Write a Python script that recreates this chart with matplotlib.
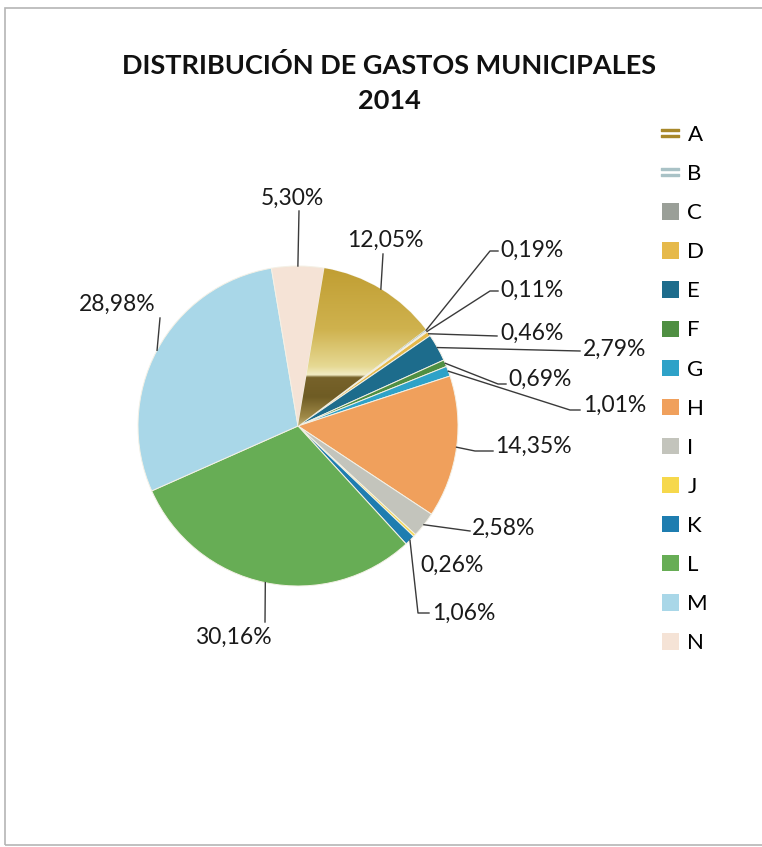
import numpy as np
import matplotlib.pyplot as plt
from matplotlib.colors import LinearSegmentedColormap
from matplotlib.patches import Patch, Rectangle
from matplotlib.lines import Line2D

plt.rcParams['font.family'] = ['Lato', 'DejaVu Sans']

categorias = ["A", "B", "C", "D", "E", "F", "G", "H", "I", "J", "K", "L", "M", "N"]
porcentajes = [12.05, 0.19, 0.11, 0.46, 2.79, 0.69, 1.01, 14.35, 2.58, 0.26, 1.06, 30.16, 28.98, 5.30]
colores = ["#c9a83c", "#a9c2c6", "#9a9f98", "#e6b94a", "#1d6c8c", "#4f8f42",
           "#2ea2c8", "#f0a05c", "#c3c4bc", "#f6d84c", "#1e7db0", "#67ad55",
           "#a9d7e8", "#f5e3d6"]
etiquetas = [f"{v:.2f}%".replace(".", ",") for v in porcentajes]

W, H = 762, 847
CX, CY, R = 298, 426, 160

# posicion del texto (px, y hacia abajo), alineacion y puntos intermedios de la guia
pos_texto = [(385, 240), (500, 250), (500, 290), (500, 333), (583, 349), (508, 379),
             (583, 405), (495, 446), (472, 528), (420, 565), (432, 613), (233, 637),
             (117, 304), (292, 198)]
alineacion = ["center", "left", "left", "left", "left", "left", "left", "left",
              "left", "left", "left", "center", "center", "center"]
guias = [[(383, 254)], [(490, 251), (498, 251)], [(490, 291), (498, 291)],
         [(497, 336)], [(580, 351)], [(498, 384), (506, 384)],
         [(570, 410), (580, 410)], [(475, 451), (493, 451)], [(470, 531)],
         None, [(418, 613), (429, 613)], [(265, 622)], [(160, 318)], [(299, 211)]]


def py(y):
    return H - y


fig = plt.figure(figsize=(W / 100, H / 100), dpi=100)
ax = fig.add_axes([0, 0, 1, 1])

wedges, _ = ax.pie(porcentajes, colors=colores, startangle=80.5, counterclock=False,
                   center=(CX, py(CY)), radius=R,
                   wedgeprops=dict(edgecolor="#f4f1e6", linewidth=0.7))
ax.set_xlim(0, W)
ax.set_ylim(0, H)
ax.set_aspect("equal")
ax.axis("off")

# degradado metalico en la primera porcion
oro = LinearSegmentedColormap.from_list("oro", [
    (0.0, "#bf9c30"), (0.4, "#cfb24e"), (0.62, "#e6d994"), (0.67, "#f3ecc4"),
    (0.685, "#77622a"), (0.8, "#6f5c24"), (0.92, "#a08a48"), (1.0, "#d6cc9c")])
grad = np.linspace(1, 0, 256).reshape(-1, 1)
img = ax.imshow(grad, cmap=oro, aspect="auto", origin="lower",
                extent=(CX - 5, CX + R + 5, py(CY) - 5, py(CY) + R + 5), zorder=2)
img.set_clip_path(wedges[0])

for w, txt, (tx, ty), ha, guia in zip(wedges, etiquetas, pos_texto, alineacion, guias):
    ang = np.deg2rad((w.theta1 + w.theta2) / 2)
    ax0 = CX + R * np.cos(ang)
    ay0 = py(CY) + R * np.sin(ang)
    if guia:
        xs = [ax0] + [p[0] for p in guia]
        ys = [ay0] + [py(p[1]) for p in guia]
        ax.plot(xs, ys, color="#3a3a3a", lw=1.0, zorder=3)
    ax.text(tx, py(ty), txt, ha=ha, va="center", fontsize=16.5, color="#1a1a1a")

fig.text(389 / W, 1 - 65 / H, "DISTRIBUCIÓN DE GASTOS MUNICIPALES", ha="center",
         va="center", fontsize=19.5, weight="bold", color="#111111")
fig.text(389 / W, 1 - 101 / H, "2014", ha="center", va="center", fontsize=19.5,
         weight="bold", color="#111111")

handles = []
for i, c in enumerate(colores):
    if i < 2:
        handles.append(Line2D([], [], marker="$=$", ms=13, color=c if i else "#a8882a",
                              linestyle="none"))
    else:
        handles.append(Patch(facecolor=c, edgecolor="none"))
fig.legend(handles, categorias, loc="upper left", bbox_to_anchor=(653 / W, 1 - 116 / H),
           frameon=False, fontsize=16, handlelength=0.75, handleheight=0.75,
           handletextpad=0.4, labelspacing=0.86, borderaxespad=0)

fig.add_artist(Rectangle((5 / W, 2 / H), 1.0, (H - 10) / H, transform=fig.transFigure,
                         fill=False, edgecolor="#b5b5b5", lw=1.2))

fig.savefig("out.png", dpi=100)
